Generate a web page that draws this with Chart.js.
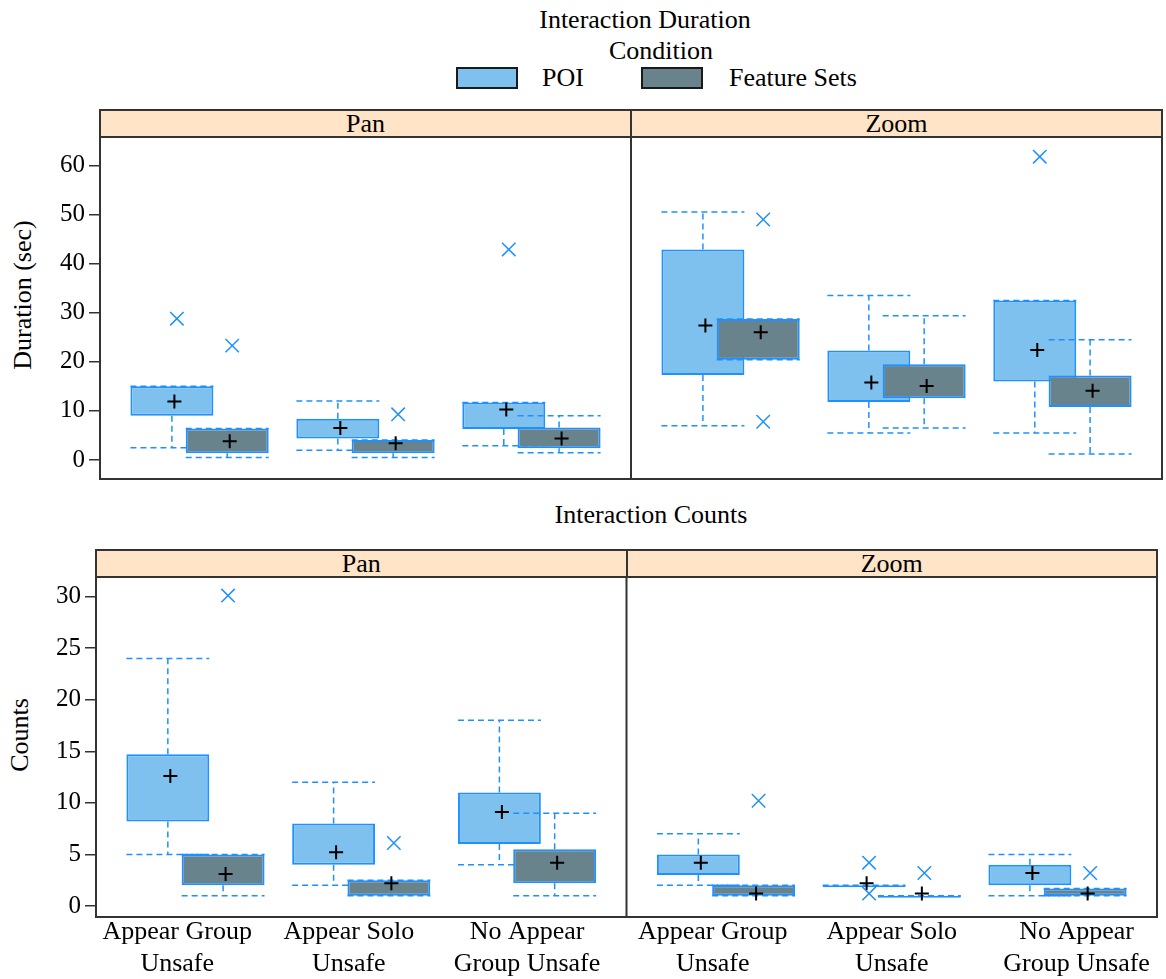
<!DOCTYPE html>
<html>
<head>
<meta charset="utf-8">
<script src="https://cdn.jsdelivr.net/npm/chart.js@4.4.1/dist/chart.umd.min.js"></script>
<style>
  html, body { margin: 0; padding: 0; background: #fff; }
  body { width: 1166px; height: 979px; position: relative; overflow: hidden;
         font-family: "Liberation Serif", "Times New Roman", serif; color: #000; }
  canvas { position: absolute; left: 0; }
  .txt { position: absolute; font-size: 26px; line-height: 30px; white-space: nowrap; }
  .mid { transform: translateX(-50%); }
  .vert { position: absolute; font-size: 26px; line-height: 30px; white-space: nowrap;
          transform: translate(-50%, -50%) rotate(-90deg); }
  .swatch { position: absolute; width: 62px; height: 22px; box-sizing: border-box; border: 2px solid #1a1a1a; }
  .strip { position: absolute; box-sizing: border-box; background: #FFE4C8; border: 2px solid #333;
           text-align: center; font-size: 26px; line-height: 25px; }
</style>
</head>
<body>
<div class="txt mid" style="left:645px; top:5px;">Interaction Duration</div>
<div class="txt mid" style="left:661px; top:36px;">Condition</div>
<div class="swatch" style="left:456px; top:67px; background:#7EC0EE;"></div>
<div class="txt" id="leg0" style="left:542px; top:63px;"></div>
<div class="swatch" style="left:641px; top:67px; background:#68838B;"></div>
<div class="txt" id="leg1" style="left:729px; top:63px;"></div>
<div class="vert" style="left:23px; top:295px;">Duration (sec)</div>

<div class="txt mid" style="left:651px; top:500px;">Interaction Counts</div>
<div class="vert" style="left:20px; top:735px;">Counts</div>

<canvas id="durChart" width="1166" height="356" style="top:130px"></canvas>
<canvas id="cntChart" width="1166" height="409" style="top:570px"></canvas>

<script>
// ---- data ----
const CATEGORIES = [['Appear Group', 'Unsafe'], ['Appear Solo', 'Unsafe'], ['No Appear', 'Group Unsafe']];
const PANELS = ['Pan', 'Zoom'];
const SERIES = ['POI', 'Feature Sets'];
const DURATION_TICKS = [0, 10, 20, 30, 40, 50, 60];
const COUNT_TICKS = [0, 5, 10, 15, 20, 25, 30];

// Interaction Duration (sec); order: Pan (3 categories), then Zoom (3 categories)
const DUR_POI_MIN  = [2.5, 2.0, 2.9, 7.0, 5.5, 5.5];
const DUR_POI_Q1   = [9.0, 4.4, 6.3, 17.3, 11.8, 16.0];
const DUR_POI_Q3   = [15.0, 8.4, 11.7, 42.9, 22.3, 32.5];
const DUR_POI_MAX  = [15.0, 12.0, 11.7, 50.5, 33.5, 32.5];
const DUR_POI_MEAN = [11.9, 6.5, 10.3, 27.4, 15.8, 22.4];
const DUR_POI_OUT  = [[28.8], [], [42.9], [], [], [61.8]];

const DUR_FS_MIN  = [0.5, 0.5, 1.5, 20.4, 6.5, 1.2];
const DUR_FS_Q1   = [1.4, 1.4, 2.4, 20.4, 12.6, 10.8];
const DUR_FS_Q3   = [6.4, 4.1, 6.6, 28.7, 19.5, 17.2];
const DUR_FS_MAX  = [6.4, 4.1, 9.0, 28.7, 29.4, 24.5];
const DUR_FS_MEAN = [3.8, 3.4, 4.4, 26.0, 15.1, 14.1];
const DUR_FS_OUT  = [[23.3], [9.3], [], [49.0, 7.8], [], []];

// Interaction Counts
const CNT_POI_MIN  = [5, 2, 4, 2, 2, 1];
const CNT_POI_Q1   = [8.2, 4, 6, 3, 2, 2];
const CNT_POI_Q3   = [14.7, 8, 11, 5, 2, 4];
const CNT_POI_MAX  = [24, 12, 18, 7, 2, 5];
const CNT_POI_MEAN = [12.6, 5.2, 9.1, 4.2, 2.2, 3.2];
const CNT_POI_OUT  = [[], [], [], [], [4.2, 1.2], []];

const CNT_FS_MIN  = [1, 1, 1, 1, 1, 1];
const CNT_FS_Q1   = [2, 1, 2.2, 1, 1, 1];
const CNT_FS_Q3   = [5, 2.5, 5.5, 2, 1, 1.7];
const CNT_FS_MAX  = [5, 2.5, 9, 2, 1, 1.7];
const CNT_FS_MEAN = [3.1, 2.2, 4.2, 1.2, 1.2, 1.2];
const CNT_FS_OUT  = [[30.1], [6.1], [], [10.2], [3.2], [3.2]];

// ---- layout / style ----
const X_MIN = -0.6;
const PANEL_SPAN = 3.2;
const BOX_OFFSET = 1 / 6;          // half distance between the two boxes of a category
const MEAN_NUDGE = 0.015;
const OUT_NUDGE = 0.03;
const LABEL_SHIFT = [-0.11, -0.075, 0, -0.08, 0, 0.115];
const POI_FILL = '#7EC0EE';
const FS_FILL = '#68838B';
const EDGE = '#1E90FF';
const FRAME = '#333333';
const FONT = 'Liberation Serif';

Chart.defaults.font.family = FONT;
Chart.defaults.color = '#000';

const BOX_X = PANELS.flatMap((p, pi) => CATEGORIES.map((c, ci) => pi * PANEL_SPAN + ci));

document.getElementById('leg0').textContent = SERIES[0];
document.getElementById('leg1').textContent = SERIES[1];

const whiskerPlugin = {
  id: 'whiskers',
  afterDatasetDraw(chart, args) {
    const ds = chart.data.datasets[args.index];
    if (!ds.whiskerLow) return;
    const y = chart.scales.y;
    const a = chart.chartArea;
    const ctx = chart.ctx;
    ctx.save();
    ctx.beginPath();
    ctx.rect(a.left, a.top, a.right - a.left, a.bottom - a.top);
    ctx.clip();
    ctx.strokeStyle = EDGE;
    ctx.lineWidth = 1.5;
    ctx.setLineDash([6, 4]);
    args.meta.data.forEach((bar, j) => {
      const [q1, q3] = ds.data[j].y;
      const lo = ds.whiskerLow[j], hi = ds.whiskerHigh[j];
      const half = bar.width / 2;
      const pLo = y.getPixelForValue(lo), pHi = y.getPixelForValue(hi);
      ctx.beginPath();
      if (hi > q3) { ctx.moveTo(bar.x, y.getPixelForValue(q3)); ctx.lineTo(bar.x, pHi); }
      if (lo < q1) { ctx.moveTo(bar.x, y.getPixelForValue(q1)); ctx.lineTo(bar.x, pLo); }
      ctx.moveTo(bar.x - half, pHi); ctx.lineTo(bar.x + half, pHi);
      ctx.moveTo(bar.x - half, pLo); ctx.lineTo(bar.x + half, pLo);
      ctx.stroke();
    });
    ctx.restore();
  }
};

const framePlugin = {
  id: 'frame',
  afterDraw(chart) {
    const { ctx, chartArea: a, scales: { x } } = chart;
    const divider = x.getPixelForValue(X_MIN + PANEL_SPAN);
    ctx.save();
    ctx.strokeStyle = FRAME;
    ctx.lineWidth = 2;
    ctx.strokeRect(a.left, a.top, a.right - a.left, a.bottom - a.top);
    ctx.beginPath();
    ctx.moveTo(divider, a.top);
    ctx.lineTo(divider, a.bottom);
    ctx.stroke();
    ctx.restore();
  }
};

function boxSet(label, sign, q1, q3, lo, hi, fill, order) {
  return {
    type: 'bar', label, order,
    data: BOX_X.map((x, j) => ({ x: x + sign * BOX_OFFSET, y: [q1[j], q3[j]] })),
    whiskerLow: lo, whiskerHigh: hi,
    backgroundColor: fill, borderColor: EDGE, borderWidth: 2, borderSkipped: false,
    grouped: false, categoryPercentage: 1, barPercentage: 1.5, minBarLength: 2
  };
}

function meanSet(sign, mean) {
  return {
    type: 'scatter', order: 1,
    data: BOX_X.map((x, j) => ({ x: x + sign * BOX_OFFSET + MEAN_NUDGE, y: mean[j] })),
    pointStyle: 'cross', pointRadius: 7, pointBorderWidth: 2, borderWidth: 2,
    pointBorderColor: '#000', borderColor: '#000'
  };
}

function outlierSet(sign, out) {
  const pts = [];
  out.forEach((vals, j) => vals.forEach(v => pts.push({ x: BOX_X[j] + sign * BOX_OFFSET + OUT_NUDGE, y: v })));
  return {
    type: 'scatter', order: 0, data: pts,
    pointStyle: 'crossRot', pointRadius: 9.5, pointBorderWidth: 1.5, borderWidth: 1.5,
    pointBorderColor: EDGE, borderColor: EDGE
  };
}

function buildChart(id, s, y, axisWidth, showLabels, padding) {
  const chart = new Chart(document.getElementById(id), {
    type: 'bar',
    data: {
      datasets: [
        boxSet(SERIES[0], -1, s.poi[0], s.poi[1], s.poi[2], s.poi[3], POI_FILL, 3),
        boxSet(SERIES[1], 1, s.fs[0], s.fs[1], s.fs[2], s.fs[3], FS_FILL, 2),
        meanSet(-1, s.poi[4]),
        meanSet(1, s.fs[4]),
        outlierSet(-1, s.poi[5]),
        outlierSet(1, s.fs[5])
      ]
    },
    options: {
      responsive: false,
      animation: false,
      events: [],
      layout: { padding, autoPadding: false },
      plugins: { legend: { display: false }, tooltip: { enabled: false } },
      scales: {
        x: {
          type: 'linear', min: X_MIN, max: X_MIN + 2 * PANEL_SPAN, offset: false,
          display: showLabels,
          grid: { display: false, drawTicks: false },
          border: { display: false },
          afterBuildTicks: (axis) => {
            axis.ticks = BOX_X.map((v, j) => ({ value: v + (showLabels ? LABEL_SHIFT[j] : 0) }));
          },
          afterFit: (axis) => {
            axis.height = showLabels ? 62 : 0;
            axis.paddingLeft = 0;
            axis.paddingRight = 0;
          },
          ticks: {
            autoSkip: false, maxRotation: 0, minRotation: 0, padding: 0,
            font: { size: 26, lineHeight: 1.2 },
            callback: (v, i) => CATEGORIES[i % CATEGORIES.length]
          }
        },
        y: {
          type: 'linear', min: y.min, max: y.max,
          afterBuildTicks: (axis) => { axis.ticks = y.ticks.map(v => ({ value: v })); },
          afterFit: (axis) => {
            axis.width = axisWidth;
            axis.paddingTop = 0;
            axis.paddingBottom = 0;
          },
          grid: { drawOnChartArea: false, drawTicks: true, tickLength: 11, color: FRAME, lineWidth: 1.5 },
          border: { display: false },
          ticks: { padding: 4, font: { size: 25 }, color: '#000' }
        }
      }
    },
    plugins: [whiskerPlugin, framePlugin]
  });

  // panel strips, placed from the chart's own scales
  const canvas = document.getElementById(id);
  const top = canvas.offsetTop;
  const a = chart.chartArea;
  const divider = chart.scales.x.getPixelForValue(X_MIN + PANEL_SPAN);
  const edges = [a.left, divider, a.right];
  const STRIP_H = 28;
  PANELS.forEach((name, i) => {
    const d = document.createElement('div');
    d.className = 'strip';
    d.textContent = name;
    d.style.left = (edges[i] - 1) + 'px';
    d.style.width = (edges[i + 1] - edges[i] + 2) + 'px';
    d.style.top = (top + a.top - STRIP_H) + 'px';
    d.style.height = (STRIP_H + 1) + 'px';
    document.body.appendChild(d);
  });
  return chart;
}

buildChart('durChart',
  { poi: [DUR_POI_Q1, DUR_POI_Q3, DUR_POI_MIN, DUR_POI_MAX, DUR_POI_MEAN, DUR_POI_OUT],
    fs: [DUR_FS_Q1, DUR_FS_Q3, DUR_FS_MIN, DUR_FS_MAX, DUR_FS_MEAN, DUR_FS_OUT] },
  { min: -3.87, max: 65.8, ticks: DURATION_TICKS }, 100, false,
  { top: 7, right: 4, bottom: 7, left: 0 });

buildChart('cntChart',
  { poi: [CNT_POI_Q1, CNT_POI_Q3, CNT_POI_MIN, CNT_POI_MAX, CNT_POI_MEAN, CNT_POI_OUT],
    fs: [CNT_FS_Q1, CNT_FS_Q3, CNT_FS_MIN, CNT_FS_MAX, CNT_FS_MEAN, CNT_FS_OUT] },
  { min: -1.07, max: 31.9, ticks: COUNT_TICKS }, 96, true,
  { top: 7, right: 9, bottom: 0, left: 0 });
</script>
</body>
</html>
